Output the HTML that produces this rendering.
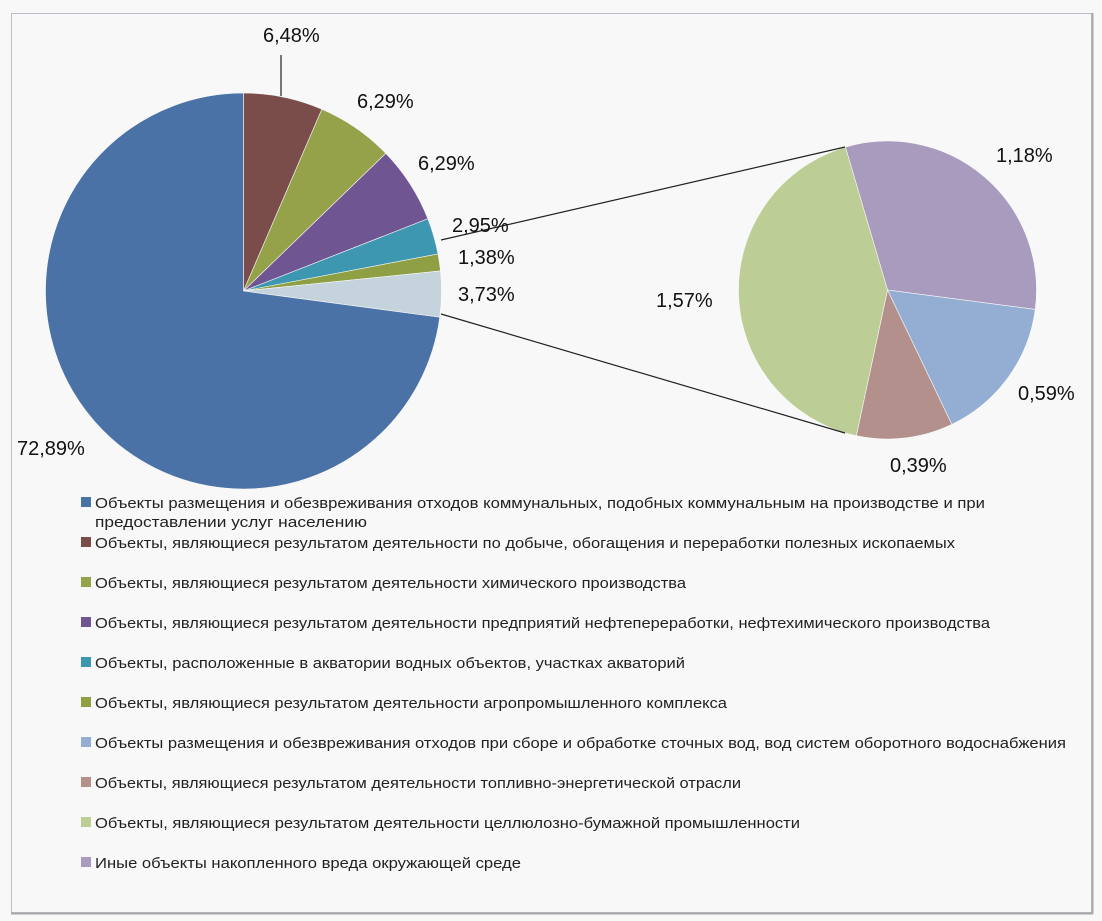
<!DOCTYPE html>
<html><head><meta charset="utf-8"><style>
html,body{margin:0;padding:0;background:#f8f8f8;}
svg{display:block;font-family:"Liberation Sans",sans-serif;}
</style></head><body>
<svg id="s" width="1102" height="921" viewBox="0 0 1102 921" xmlns="http://www.w3.org/2000/svg">
<rect x="0" y="0" width="1102" height="921" fill="#f8f8f8"/>
<rect x="11.5" y="13.5" width="1080" height="899" fill="#f8f8f8" stroke="#b9bfcc" stroke-width="1"/>
<line x1="1092.5" y1="13" x2="1092.5" y2="914" stroke="#a8a8a8" stroke-width="2"/>
<line x1="11" y1="913.5" x2="1093" y2="913.5" stroke="#a8a8a8" stroke-width="2"/>
<g id="pies"></g>
<line x1="441" y1="240" x2="845" y2="147" stroke="#222" stroke-width="1.2"/>
<line x1="441" y1="314" x2="845" y2="433" stroke="#222" stroke-width="1.2"/>
<line x1="281" y1="55" x2="281" y2="96" stroke="#222" stroke-width="1.2"/>
<g font-size="20" fill="#111">
<text x="263" y="42">6,48%</text>
<text x="357" y="108">6,29%</text>
<text x="418" y="170">6,29%</text>
<text x="452" y="232">2,95%</text>
<text x="458" y="264">1,38%</text>
<text x="458" y="301">3,73%</text>
<text x="17" y="455">72,89%</text>
<text x="996" y="162">1,18%</text>
<text x="656" y="307">1,57%</text>
<text x="1018" y="400">0,59%</text>
<text x="890" y="472">0,39%</text>
</g>
<g font-size="15" fill="#222">
<rect x="81" y="497" width="10" height="10" fill="#4a72a6"/>
<text x="95" y="508" textLength="890" lengthAdjust="spacingAndGlyphs">Объекты размещения и обезвреживания отходов коммунальных, подобных коммунальным на производстве и при</text>
<text x="95" y="527" textLength="272" lengthAdjust="spacingAndGlyphs">предоставлении услуг населению</text>
<rect x="81" y="537" width="10" height="10" fill="#7a4c4a"/>
<text x="95" y="548" textLength="860" lengthAdjust="spacingAndGlyphs">Объекты, являющиеся результатом деятельности по добыче, обогащения и переработки полезных ископаемых</text>
<rect x="81" y="577" width="10" height="10" fill="#95a24a"/>
<text x="95" y="588" textLength="591" lengthAdjust="spacingAndGlyphs">Объекты, являющиеся результатом деятельности химического производства</text>
<rect x="81" y="617" width="10" height="10" fill="#6f5592"/>
<text x="95" y="628" textLength="895" lengthAdjust="spacingAndGlyphs">Объекты, являющиеся результатом деятельности предприятий нефтепереработки, нефтехимического производства</text>
<rect x="81" y="657" width="10" height="10" fill="#3e97b0"/>
<text x="95" y="668" textLength="590" lengthAdjust="spacingAndGlyphs">Объекты, расположенные в акватории водных объектов, участках акваторий</text>
<rect x="81" y="697" width="10" height="10" fill="#8fa044"/>
<text x="95" y="708" textLength="632" lengthAdjust="spacingAndGlyphs">Объекты, являющиеся результатом деятельности агропромышленного комплекса</text>
<rect x="81" y="737" width="10" height="10" fill="#94aed3"/>
<text x="95" y="748" textLength="971" lengthAdjust="spacingAndGlyphs">Объекты размещения и обезвреживания отходов при сборе и обработке сточных вод, вод систем оборотного водоснабжения</text>
<rect x="81" y="777" width="10" height="10" fill="#b3908c"/>
<text x="95" y="788" textLength="646" lengthAdjust="spacingAndGlyphs">Объекты, являющиеся результатом деятельности топливно-энергетической отрасли</text>
<rect x="81" y="817" width="10" height="10" fill="#bccd95"/>
<text x="95" y="828" textLength="705" lengthAdjust="spacingAndGlyphs">Объекты, являющиеся результатом деятельности целлюлозно-бумажной промышленности</text>
<rect x="81" y="857" width="10" height="10" fill="#a89bbd"/>
<text x="95" y="868" textLength="426" lengthAdjust="spacingAndGlyphs">Иные объекты накопленного вреда окружающей среде</text>
</g>
</svg>
<script>
function pie(cx,cy,r,start,vals,cols){
  var tot=vals.reduce(function(a,b){return a+b},0),a=start,out='';
  for(var i=0;i<vals.length;i++){
    var s=a,e=a+vals[i]/tot*360;a=e;
    var p=function(d){var t=d*Math.PI/180;return [cx+r*Math.sin(t),cy-r*Math.cos(t)];};
    var P=p(s),Q=p(e),L=(e-s)>180?1:0;
    out+='<path d="M'+cx+' '+cy+' L'+P[0].toFixed(2)+' '+P[1].toFixed(2)+' A'+r+' '+r+' 0 '+L+' 1 '+Q[0].toFixed(2)+' '+Q[1].toFixed(2)+' Z" fill="'+cols[i]+'" stroke="#f8f8f8" stroke-width="0.6"/>';
  }
  return out;
}
var g=document.getElementById('pies');
g.innerHTML=pie(243.5,291,198,0,[6.48,6.29,6.29,2.95,1.38,3.73,72.89],['#7a4c4a','#95a24a','#6f5592','#3e97b0','#8fa044','#c4d3dc','#4a72a6'])
 +pie(887.5,290,149,-16.4,[1.18,0.59,0.39,1.57],['#a89bbd','#94aed3','#b3908c','#bccd95']);
</script>
</body></html>
